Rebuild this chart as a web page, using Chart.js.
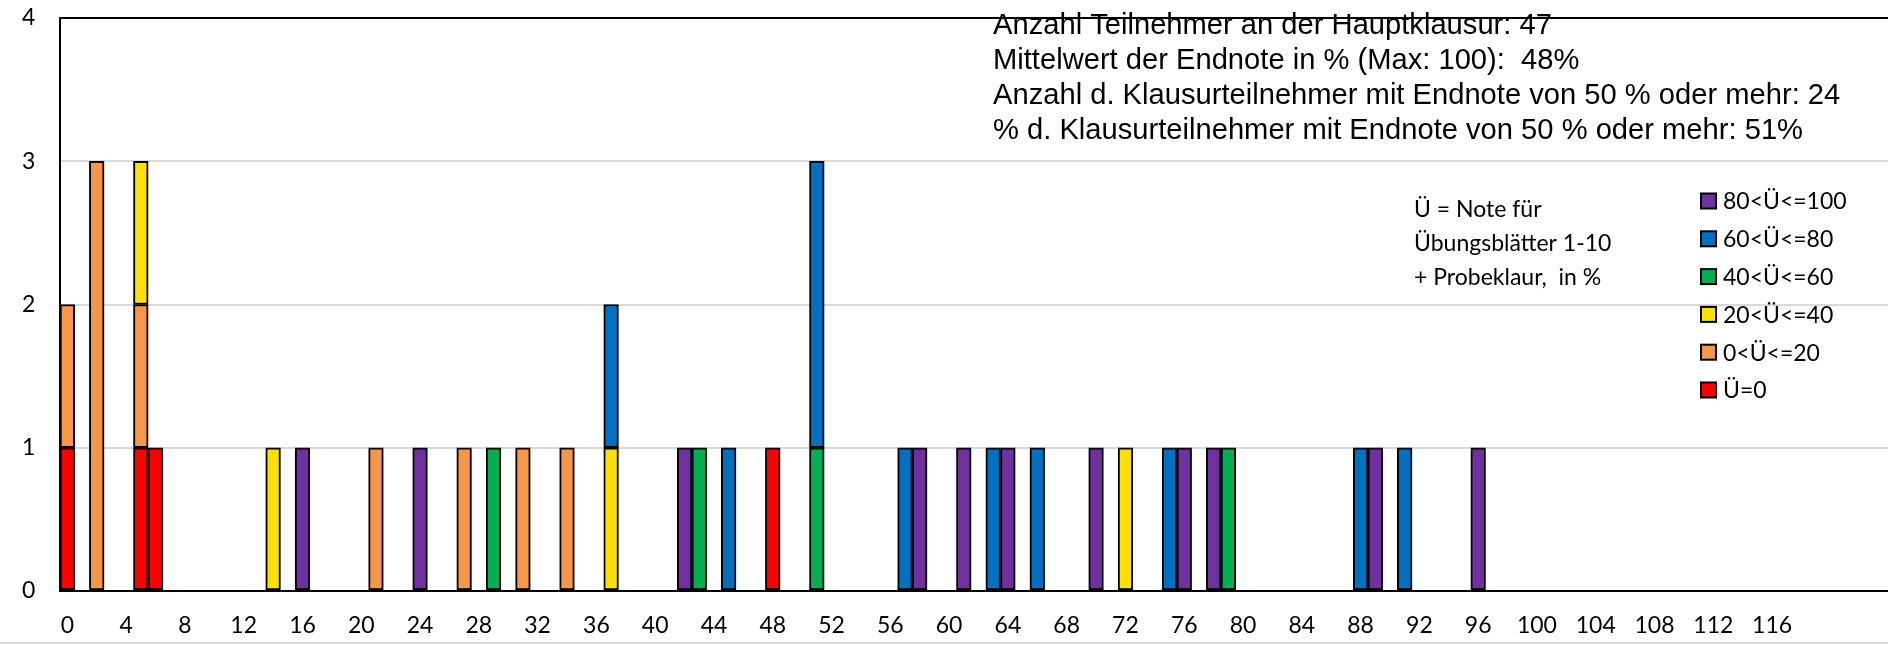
<!DOCTYPE html>
<html lang="de">
<head>
<meta charset="utf-8">
<title>Endnote vs. Übungsnote</title>
<script src="https://cdn.jsdelivr.net/npm/chart.js@4/dist/chart.umd.min.js"></script>
<style>
  html, body { margin: 0; padding: 0; background: #fff; overflow: hidden; }
  #wrap { width: 1897px; height: 645px; }
</style>
</head>
<body>
<div id="wrap"><canvas id="chart" width="1897" height="645"></canvas></div>
<script>
// x categories: Endnote in %, 0..124 (labels every 4 up to 116)
const categories = Array.from({ length: 125 }, (_, i) => String(i));
const lastLabel = 116;
const labelStep = 4;

// [Endnote, Anzahl] per Übungsnote-Gruppe (stack order bottom -> top)
const uZero = [[0, 1], [5, 1], [6, 1], [48, 1]];
const u0to20 = [[0, 1], [2, 3], [5, 1], [21, 1], [27, 1], [31, 1], [34, 1]];
const u20to40 = [[5, 1], [14, 1], [37, 1], [72, 1]];
const u40to60 = [[29, 1], [43, 1], [51, 1], [79, 1]];
const u60to80 = [[37, 1], [45, 1], [51, 2], [57, 1], [63, 1], [66, 1], [75, 1], [88, 1], [91, 1]];
const u80to100 = [[16, 1], [24, 1], [42, 1], [58, 1], [61, 1], [64, 1], [70, 1], [76, 1], [78, 1], [89, 1], [96, 1]];

const seriesNames = ['Ü=0', '0<Ü<=20', '20<Ü<=40', '40<Ü<=60', '60<Ü<=80', '80<Ü<=100'];
const seriesValues = [uZero, u0to20, u20to40, u40to60, u60to80, u80to100];
const seriesColors = ['#ff0000', '#f79646', '#ffe000', '#00b050', '#0070c0', '#7030a0'];

const yTicks = [0, 1, 2, 3, 4];

const statLines = [
  'Anzahl Teilnehmer an der Hauptklausur: 47',
  'Mittelwert der Endnote in % (Max: 100):  48%',
  'Anzahl d. Klausurteilnehmer mit Endnote von 50 % oder mehr: 24',
  '% d. Klausurteilnehmer mit Endnote von 50 % oder mehr: 51%'
];
const noteLines = ['Ü = Note für', 'Übungsblätter 1-10', '+ Probeklaur,  in %'];

// plot frame, stats text, note and legend drawn on top of the chart
const overlayPlugin = {
  id: 'overlay',
  afterDraw(chart) {
    const { ctx, chartArea } = chart;
    ctx.save();

    // top border of plot area
    ctx.strokeStyle = '#000';
    ctx.lineWidth = 2;
    ctx.beginPath();
    ctx.moveTo(chartArea.left, chartArea.top);
    ctx.lineTo(chartArea.right, chartArea.top);
    ctx.stroke();

    // light outer border at the bottom
    ctx.strokeStyle = '#d9d9d9';
    ctx.beginPath();
    ctx.moveTo(0, 643);
    ctx.lineTo(chart.width, 643);
    ctx.stroke();

    // statistics box, narrow Arial look
    ctx.fillStyle = '#000';
    ctx.font = '29px "Liberation Sans", Arial, sans-serif';
    ctx.textBaseline = 'alphabetic';
    ctx.textAlign = 'left';
    const squeeze = 810 / ctx.measureText(statLines[3]).width;
    statLines.forEach((line, i) => {
      ctx.save();
      ctx.translate(993, 34 + i * 35);
      ctx.scale(squeeze, 1);
      ctx.fillText(line, 0, 0);
      ctx.restore();
    });

    // note about Ü
    ctx.font = '23px Lato, sans-serif';
    ctx.textBaseline = 'middle';
    noteLines.forEach((line, i) => ctx.fillText(line, 1414, 210 + i * 34));

    // legend (reversed: highest group on top)
    const items = chart.data.datasets.slice().reverse();
    items.forEach((ds, i) => {
      const cy = 201 + i * 37.8;
      ctx.fillStyle = ds.backgroundColor;
      ctx.fillRect(1701, cy - 7.5, 15, 15);
      ctx.strokeStyle = '#000';
      ctx.lineWidth = 2;
      ctx.strokeRect(1701, cy - 7.5, 15, 15);
      ctx.fillStyle = '#000';
      ctx.fillText(ds.label, 1723, cy + 1);
    });

    ctx.restore();
  }
};

const datasets = seriesNames.map((name, i) => ({
  label: name,
  data: seriesValues[i].map(([cat, count]) => ({ x: String(cat), y: count })),
  backgroundColor: seriesColors[i],
  borderColor: '#000',
  borderWidth: 2,
  borderSkipped: false,
  barPercentage: 1,
  categoryPercentage: 1
}));

new Chart(document.getElementById('chart'), {
  type: 'bar',
  data: { labels: categories, datasets },
  options: {
    responsive: false,
    animation: false,
    layout: { padding: { top: 18, left: 22, right: 0, bottom: 0 } },
    plugins: {
      legend: { display: false },
      tooltip: { enabled: false },
      title: { display: false }
    },
    scales: {
      x: {
        stacked: true,
        grid: { display: false, drawTicks: false },
        border: { display: true, color: '#000', width: 2 },
        ticks: {
          autoSkip: false,
          maxRotation: 0,
          padding: 0,
          color: '#000',
          // tall line box pushes the labels down without adding side padding
          font: { family: 'Lato', size: 23, lineHeight: 3.04 },
          callback: (value, index) => (index % labelStep === 0 && index <= lastLabel ? categories[index] : '')
        },
        afterFit: (scale) => { scale.height = 54; }
      },
      y: {
        stacked: true,
        min: yTicks[0],
        max: yTicks[yTicks.length - 1],
        afterBuildTicks: (scale) => { scale.ticks = yTicks.map((v) => ({ value: v })); },
        grid: {
          drawTicks: false,
          lineWidth: 2,
          color: (c) => (c.tick && (c.tick.value === 0 || c.tick.value === 4) ? 'rgba(0,0,0,0)' : '#d9d9d9')
        },
        border: { display: true, color: '#000', width: 2 },
        ticks: { padding: 0, crossAlign: 'far', color: '#000', font: { family: 'Lato', size: 23 } },
        afterFit: (scale) => { scale.width = 38; }
      }
    }
  },
  plugins: [overlayPlugin]
});
</script>
</body>
</html>
